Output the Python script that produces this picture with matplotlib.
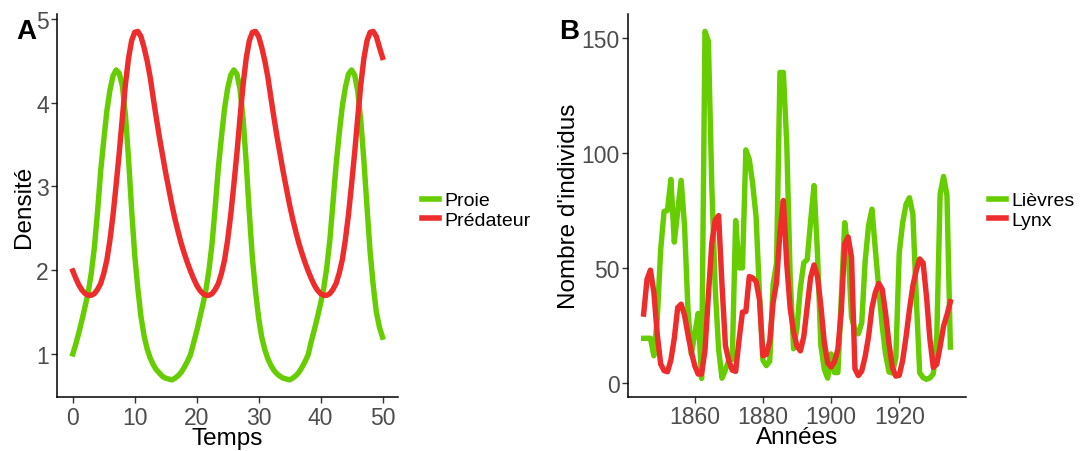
import numpy as np
import matplotlib
matplotlib.use("Agg")
import matplotlib.pyplot as plt
from matplotlib.lines import Line2D

plt.rcParams['font.family'] = ['Liberation Sans', 'DejaVu Sans']

# ---------------- Panel A : simulated prey / predator densities ----------------
temps = np.arange(0, 50.01, 0.5)
proie = [1.00, 1.12, 1.26, 1.41, 1.57, 1.74, 1.97, 2.28, 2.70, 3.18,
         3.55, 3.90, 4.15, 4.32, 4.39, 4.35, 4.20, 3.85, 3.33, 2.72,
         2.18, 1.78, 1.45, 1.22, 1.06, 0.95, 0.87, 0.81, 0.77, 0.73,
         0.71, 0.70, 0.69, 0.71, 0.74, 0.78, 0.84, 0.91, 0.99,
         1.13, 1.27, 1.43, 1.59, 1.77, 2.01, 2.33, 2.76, 3.22, 3.59,
         3.93, 4.17, 4.33, 4.39, 4.34, 4.16, 3.80, 3.28, 2.68, 2.14,
         1.75, 1.43, 1.20, 1.05, 0.94, 0.86, 0.80, 0.76, 0.73, 0.71,
         0.70, 0.69, 0.71, 0.74, 0.78, 0.84, 0.91, 0.99,
         1.15, 1.29, 1.44, 1.60, 1.78, 2.03, 2.36, 2.80, 3.25, 3.62,
         3.95, 4.18, 4.34, 4.39, 4.33, 4.14, 3.78, 3.30, 2.75, 2.22,
         1.82, 1.50, 1.32, 1.20]
predateur = [1.99, 1.90, 1.82, 1.76, 1.72, 1.70, 1.70, 1.72, 1.77, 1.84,
             1.96, 2.12, 2.36, 2.66, 3.02, 3.40, 3.82, 4.22, 4.53, 4.74,
             4.84, 4.85, 4.79, 4.66, 4.50, 4.30, 4.05, 3.81, 3.58, 3.37,
             3.16, 2.97, 2.78, 2.61, 2.46, 2.32, 2.20, 2.09, 1.99,
             1.90, 1.82, 1.76, 1.72, 1.70, 1.70, 1.72, 1.77, 1.84, 1.96,
             2.12, 2.36, 2.66, 3.02, 3.40, 3.82, 4.22, 4.53, 4.74, 4.84,
             4.85, 4.79, 4.66, 4.50, 4.30, 4.05, 3.81, 3.58, 3.37, 3.16,
             2.97, 2.78, 2.61, 2.46, 2.32, 2.20, 2.09, 1.99,
             1.90, 1.82, 1.76, 1.72, 1.70, 1.70, 1.72, 1.77, 1.84, 1.96,
             2.12, 2.36, 2.66, 3.02, 3.40, 3.82, 4.22, 4.53, 4.74, 4.84,
             4.85, 4.79, 4.66, 4.54]

# ---------------- Panel B : Hudson Bay hares and lynx ----------------
annees = np.arange(1845, 1936)
lievres = [19.58, 19.60, 19.61, 11.99, 28.04, 58.00, 74.60, 75.09, 88.48, 61.28,
           74.67, 88.06, 68.51, 32.19, 12.64, 21.49, 30.35, 2.18, 152.65, 148.36,
           85.81, 41.41, 14.75, 2.28, 5.91, 9.95, 10.44, 70.64, 50.12, 50.13,
           101.25, 97.12, 86.51, 72.17, 38.32, 10.11, 7.74, 9.67, 43.12, 52.21,
           134.85, 134.86, 103.79, 46.10, 15.03, 24.20, 41.65, 52.34, 53.78, 70.40,
           85.81, 56.69, 16.59, 6.16, 2.30, 12.82, 4.72, 4.73, 37.22, 69.72,
           57.78, 28.68, 23.37, 21.54, 26.34, 53.10, 68.48, 75.58, 57.92, 40.97,
           24.95, 12.59, 4.97, 4.50, 11.21, 56.60, 69.63, 77.74, 80.53, 73.38,
           36.93, 4.64, 2.54, 1.80, 2.39, 4.23, 19.52, 82.11, 89.76, 81.66,
           15.76]
lynx = [30.09, 45.15, 49.15, 39.52, 21.23, 8.42, 5.56, 5.08, 10.17, 19.60,
        32.91, 34.38, 29.59, 21.30, 13.69, 7.65, 4.08, 4.09, 14.33, 38.22,
        60.78, 70.77, 72.77, 42.68, 16.39, 9.83, 5.80, 5.26, 18.91, 30.95,
        31.18, 46.34, 45.77, 44.15, 36.33, 12.03, 12.60, 18.34, 35.14, 43.77,
        65.69, 79.35, 51.65, 32.59, 22.45, 16.16, 14.12, 20.38, 33.33, 46.00,
        51.41, 46.43, 33.68, 18.01, 8.86, 7.13, 9.47, 14.86, 31.47, 60.57,
        63.51, 54.70, 6.30, 3.41, 5.44, 11.65, 20.35, 32.88, 39.55, 43.36,
        40.83, 30.36, 17.18, 6.82, 3.19, 3.52, 9.94, 20.30, 31.99, 42.36,
        49.08, 53.99, 52.25, 37.70, 19.14, 6.98, 8.31, 16.01, 24.82, 29.70,
        35.40]

VERT = '#66CD00'
ROUGE = '#EE2C2C'
LW = 3.9

W, H = 1080, 452
fig = plt.figure(figsize=(W / 100, H / 100), dpi=100)
axA = fig.add_axes([57.3 / W, 1 - 398.3 / H, (398 - 57.3) / W, (398.3 - 15) / H])
axB = fig.add_axes([628.3 / W, 1 - 397.7 / H, (965.7 - 628.3) / W, (397.7 - 15) / H])


def style(ax):
    for s in ['top', 'right']:
        ax.spines[s].set_visible(False)
    for s in ['left', 'bottom']:
        ax.spines[s].set_linewidth(1.1)
        ax.spines[s].set_color('black')
    ax.tick_params(axis='both', length=4, width=1.0, color='#333333',
                   labelsize=16.5, labelcolor='#4D4D4D', pad=2.0)


def pad_range(a, b, f=0.05):
    p = (b - a) * f
    return a - p, b + p


# Panel A
axA.plot(temps, proie, color=VERT, lw=LW, label='Proie')
axA.plot(temps, predateur, color=ROUGE, lw=LW, label='Prédateur')
axA.set_xlim(*pad_range(min(temps), max(temps)))
axA.set_ylim(*pad_range(min(min(proie), min(predateur)), max(max(proie), max(predateur))))
axA.set_xticks([0, 10, 20, 30, 40, 50])
axA.set_yticks([1, 2, 3, 4, 5])
style(axA)
axA.set_xlabel('Temps', fontsize=17.5, labelpad=-1.2)
axA.set_ylabel('Densité', fontsize=17.5, labelpad=1.0)

# Panel B
axB.plot(annees, lievres, color=VERT, lw=LW, label='Lièvres')
axB.plot(annees, lynx, color=ROUGE, lw=LW, label='Lynx')
axB.set_xlim(*pad_range(min(annees), max(annees)))
axB.set_ylim(*pad_range(min(min(lievres), min(lynx)), max(max(lievres), max(lynx))))
axB.set_xticks([1860, 1880, 1900, 1920])
axB.set_yticks([0, 50, 100, 150])
style(axB)
axB.set_xlabel('Années', fontsize=17.5, labelpad=-1.2)
axB.set_ylabel("Nombre d'individus", fontsize=17.5, labelpad=1.5)

# Legends
def add_legend(labels, x_px):
    handles = [Line2D([], [], color=VERT, lw=4), Line2D([], [], color=ROUGE, lw=4)]
    fig.legend(handles, labels, loc='center left',
               bbox_to_anchor=(x_px / W, 1 - 211.5 / H),
               frameon=False, fontsize=14, handlelength=0.9, handletextpad=0.3,
               labelspacing=0.12, borderpad=0, borderaxespad=0)

add_legend(['Proie', 'Prédateur'], 421.5)
add_legend(['Lièvres', 'Lynx'], 988.5)

# Panel tags
fig.text(16.5 / W, 1 - 32 / H, 'A', fontsize=20, fontweight='bold', va='center', ha='left')
fig.text(559.5 / W, 1 - 32 / H, 'B', fontsize=20, fontweight='bold', va='center', ha='left')

fig.savefig('out.png', dpi=100)
